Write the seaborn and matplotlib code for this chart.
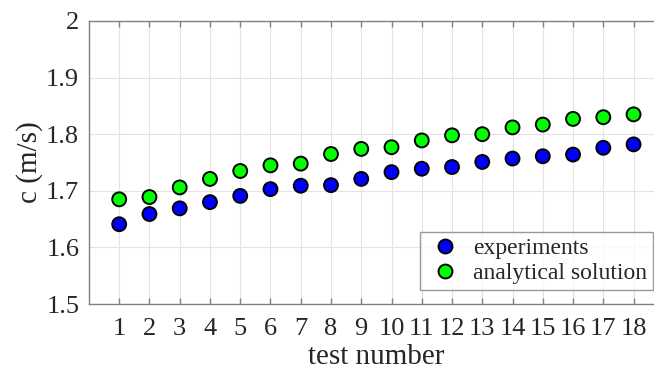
import pandas as pd
import matplotlib
matplotlib.use("Agg")
import matplotlib.pyplot as plt
import seaborn as sns

test_number = list(range(1, 19))
experiments = [1.641, 1.659, 1.669, 1.680, 1.691, 1.703, 1.709, 1.710, 1.721,
               1.733, 1.739, 1.742, 1.751, 1.757, 1.761, 1.764, 1.776, 1.782]
analytical = [1.685, 1.689, 1.706, 1.721, 1.735, 1.745, 1.748, 1.765, 1.774,
              1.777, 1.789, 1.798, 1.800, 1.812, 1.817, 1.827, 1.830, 1.835]
series_names = ["experiments", "analytical solution"]
series_colors = ["#0000ff", "#00ff00"]

df = pd.DataFrame({
    "test": test_number * 2,
    "c": experiments + analytical,
    "series": [series_names[0]] * 18 + [series_names[1]] * 18,
})

sns.set_style("white")
plt.rcParams["font.family"] = ["Liberation Serif", "DejaVu Serif"]

fig = plt.figure(figsize=(6.54, 3.74), dpi=100)
ax = fig.add_axes([0.136, 0.187, 0.879, 0.757])

sns.scatterplot(data=df, x="test", y="c", hue="series", palette=series_colors,
                s=100, edgecolor="black", linewidth=1.4, ax=ax, zorder=3)

ax.set_xlim(0, 19)
ax.set_ylim(1.5, 2.0)
ax.set_xticks(test_number)
ax.set_yticks([1.5, 1.6, 1.7, 1.8, 1.9, 2.0])
ax.set_yticklabels(["1.5", "1.6", "1.7", "1.8", "1.9", "2"])
ax.grid(True, color="#e3e3e3", linewidth=0.8)
ax.set_axisbelow(True)
for sp in ax.spines.values():
    sp.set_color("#808080")
    sp.set_linewidth(1.0)
ax.tick_params(axis="x", direction="in", length=4, width=1, color="#808080",
               labelsize=19, labelcolor="#262626", top=True, bottom=True, pad=10)
ax.tick_params(axis="y", direction="in", length=0, labelsize=19,
               labelcolor="#262626", pad=7)
ax.set_xlabel("test number", fontsize=21, color="#262626", labelpad=3)
ax.set_ylabel("c (m/s)", fontsize=21, color="#262626", labelpad=2)

leg = ax.legend(loc="lower right", bbox_to_anchor=(653 / 654, 84 / 374),
                bbox_transform=fig.transFigure, fontsize=17, frameon=True,
                fancybox=False, edgecolor="#808080", handletextpad=0.4,
                borderpad=0.25, labelspacing=0.15, handlelength=1.6,
                borderaxespad=0)
leg.get_frame().set_linewidth(1.0)
for h in leg.legend_handles:
    h.set_markersize(10)
    h.set_markeredgecolor("black")
    h.set_markeredgewidth(1.4)

fig.savefig("out.png", dpi=100)
